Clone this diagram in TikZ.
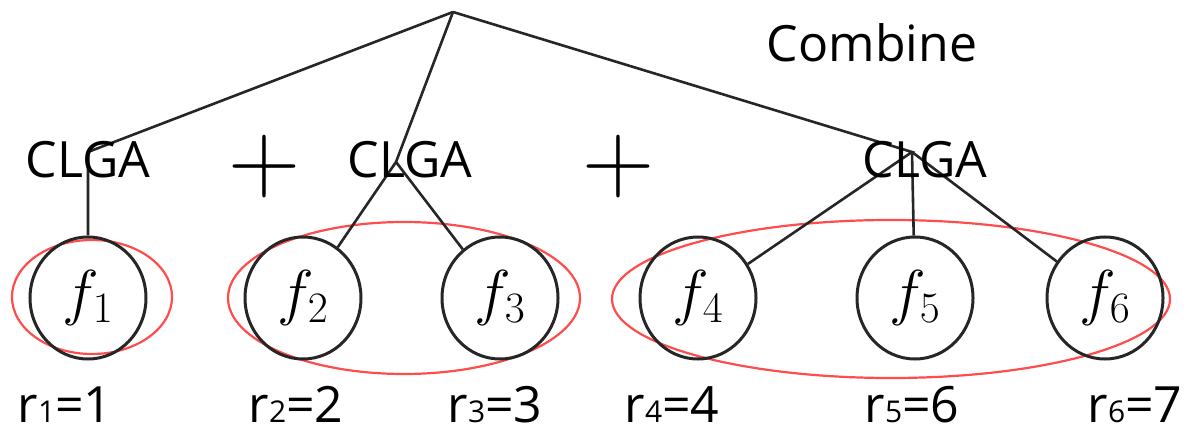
\RequirePackage{fix-cm}
\documentclass[tikz,border=0pt]{standalone}
\usepackage{fontspec}
\setmainfont{Open Sans}
\usetikzlibrary{shapes.geometric}
\begin{document}
\begin{tikzpicture}[x=1pt,y=-1pt,
  leaf/.style={draw=black!85,line width=3pt,ellipse,minimum width=116pt,minimum height=122pt,inner sep=0pt,font=\fontsize{62}{66}\selectfont},
  group/.style={draw=red!70,line width=2.2pt},
  edge/.style={draw=black!85,line width=2.6pt},
  lbl/.style={anchor=base,inner sep=0pt,font=\fontsize{50}{56}\selectfont},
  rl/.style={anchor=base,inner sep=0pt,font=\fontsize{50}{56}\selectfont},
  plus/.style={inner sep=0pt,font=\fontsize{100}{100}\selectfont}]
\useasboundingbox (0,0) rectangle (1188,435);
% groups (red ellipses)
\draw[group] (92,297) ellipse [x radius=80pt,y radius=57pt];
\draw[group] (404,298) ellipse [x radius=176pt,y radius=76pt];
\draw[group] (891,299) ellipse [x radius=279pt,y radius=79pt];
% leaves
\node[leaf] (f1) at (88,298) {$f_1$};
\node[leaf] (f2) at (303,298) {$f_2$};
\node[leaf] (f3) at (500,298) {$f_3$};
\node[leaf] (f4) at (698,298) {$f_4$};
\node[leaf] (f5) at (915,298) {$f_5$};
\node[leaf] (f6) at (1105,298) {$f_6$};
% tree points
\coordinate (top) at (453,12);
\coordinate (c1) at (88,152);
\coordinate (c2) at (396,162);
\coordinate (c3) at (912,152);
\draw[edge] (top) -- (c1) -- (f1);
\draw[edge] (top) -- (c2) -- (f2);
\draw[edge] (c2) -- (f3);
\draw[edge] (top) -- (c3) -- (f4);
\draw[edge] (c3) -- (f5);
\draw[edge] (c3) -- (f6);
% labels
\node[lbl] (l1) at (88,178) {CLGA};
\node[lbl] (l2) at (410,178) {CLGA};
\node[lbl] (l3) at (925,178) {CLGA};
\node[lbl] (comb) at (872,62) {Combine};
\node[plus] (p1) at (264,167) {$+$};
\node[plus] (p2) at (618,167) {$+$};
\newcommand{\sub}[1]{{\fontsize{30}{30}\selectfont #1}}
\node[rl] (r1) at (65,422) {r\sub{1}=1};
\node[rl] (r2) at (296,422) {r\sub{2}=2};
\node[rl] (r3) at (495,422) {r\sub{3}=3};
\node[rl] (r4) at (672,422) {r\sub{4}=4};
\node[rl] (r5) at (912,422) {r\sub{5}=6};
\node[rl] (r6) at (1135,422) {r\sub{6}=7};
\end{tikzpicture}
\end{document}
